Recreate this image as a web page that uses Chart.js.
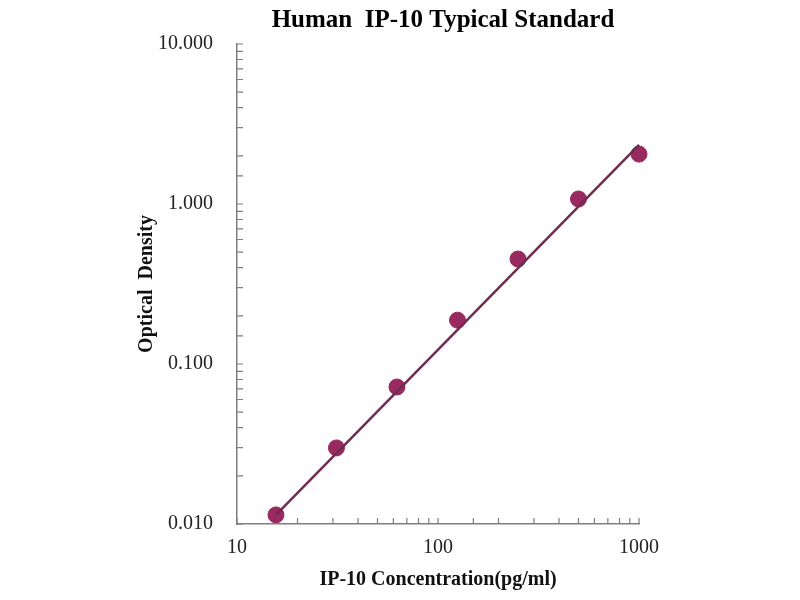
<!DOCTYPE html>
<html>
<head>
<meta charset="utf-8">
<script src="https://cdn.jsdelivr.net/npm/chart.js@4"></script>
<style>
  html, body { margin: 0; padding: 0; background: #fff; }
  #wrap { width: 800px; height: 600px; }
</style>
</head>
<body>
<div id="wrap"><canvas id="chart-std"></canvas></div>
<script>
// standard curve readings
const concentrations = [15.625, 31.25, 62.5, 125, 250, 500, 1000];
const opticalDensity = [0.0114, 0.0299, 0.0718, 0.188, 0.453, 1.075, 2.05];
// fitted line end points
const fitX = [15.625, 1000];
const fitY = [0.0114, 2.34];
// labelled ticks
const xMajorTicks = [10, 100, 1000];
const yMajorTicks = [0.01, 0.1, 1, 10];

const serif = '"Liberation Serif", "Times New Roman", serif';
const isMajor = (v, list) => list.some(m => Math.abs(v - m) < m * 1e-6);

// small tick marks pointing into the plot, like the original
const innerTicks = {
  id: 'innerTicks',
  afterDraw(chart) {
    const ctx = chart.ctx, a = chart.chartArea;
    const xs = chart.scales.x, ys = chart.scales.y;
    ctx.save();
    ctx.strokeStyle = '#7f7f7f';
    ctx.lineWidth = 1.2;
    ctx.beginPath();
    xs.ticks.forEach((t, i) => {
      const px = xs.getPixelForTick(i);
      ctx.moveTo(px, a.bottom);
      ctx.lineTo(px, a.bottom - 6);
    });
    ys.ticks.forEach((t, i) => {
      const py = ys.getPixelForTick(i);
      ctx.moveTo(a.left, py);
      ctx.lineTo(a.left + 6, py);
    });
    ctx.stroke();
    ctx.restore();
  }
};

new Chart(document.getElementById('chart-std'), {
  type: 'scatter',
  data: {
    datasets: [{
      label: 'Fit',
      data: fitX.map((x, i) => ({ x: x, y: fitY[i] })),
      showLine: true,
      borderColor: '#6e2d50',
      borderWidth: 2.5,
      pointRadius: 0,
      clip: false,
      order: 0
    }, {
      label: 'Standard',
      data: concentrations.map((x, i) => ({ x: x, y: opticalDensity[i] })),
      backgroundColor: '#982a60',
      borderColor: '#982a60',
      pointRadius: 8,
      pointHoverRadius: 8,
      clip: false,
      order: 1
    }]
  },
  options: {
    responsive: true, maintainAspectRatio: false,
    animation: false,
    layout: { padding: { left: 128, right: 42, top: 0, bottom: 0 } },
    plugins: {
      legend: { display: false },
      tooltip: { enabled: false },
      title: {
        display: true,
        text: 'Human  IP-10 Typical Standard',
        color: '#000',
        font: { family: serif, size: 25, weight: 'bold' },
        padding: { top: 6, bottom: 8 }
      }
    },
    scales: {
      x: {
        type: 'logarithmic',
        min: 10, max: 1000,
        border: { display: true, color: '#7f7f7f', width: 1.5 },
        grid: { drawOnChartArea: false, drawTicks: false },
        ticks: {
          autoSkip: false, maxRotation: 0, padding: 12,
          color: '#222',
          font: { family: serif, size: 20 },
          callback: v => isMajor(v, xMajorTicks) ? String(v) : ''
        },
        title: {
          display: true,
          text: 'IP-10 Concentration(pg/ml)',
          color: '#111',
          font: { family: serif, size: 20, weight: 'bold' },
          padding: { top: 0, bottom: 8 }
        },
        afterFit: s => { s.height = 76; }
      },
      y: {
        type: 'logarithmic',
        min: 0.01, max: 10,
        border: { display: true, color: '#7f7f7f', width: 1.5 },
        grid: { drawOnChartArea: false, drawTicks: false },
        ticks: {
          autoSkip: false, padding: 24,
          color: '#222',
          font: { family: serif, size: 20 },
          callback: v => isMajor(v, yMajorTicks) ? v.toFixed(3) : ''
        },
        title: {
          display: true,
          text: 'Optical  Density',
          color: '#111',
          font: { family: serif, size: 20, weight: 'bold' },
          padding: { top: 7, bottom: 0 }
        },
        afterFit: s => { s.width = 109; }
      },
      // empty right-hand box so the title sits where it does in the original
      spacer: {
        type: 'linear',
        position: 'right',
        display: true,
        border: { display: false },
        grid: { display: false },
        ticks: { display: false },
        afterFit: s => { s.width = 119; }
      }
    }
  },
  plugins: [innerTicks]
});
</script>
</body>
</html>
